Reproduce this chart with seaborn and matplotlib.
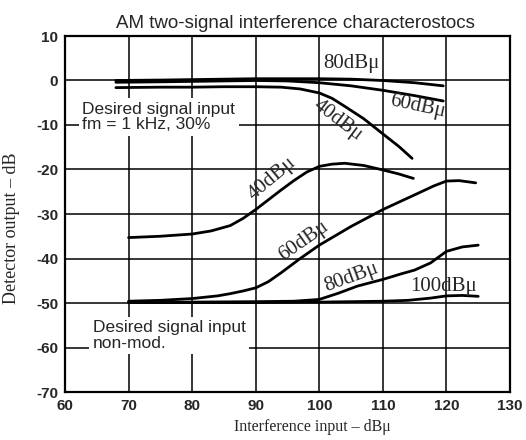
import pandas as pd
import seaborn as sns
import matplotlib.pyplot as plt

# fm = 1 kHz, 30% modulated desired signal
top80_x = [68, 75, 80, 85, 90, 95, 100, 105, 110, 115, 119.5]
top80_y = [0.0, 0.1, 0.2, 0.3, 0.4, 0.4, 0.4, 0.3, 0.0, -0.5, -1.2]
top60_x = [68, 75, 80, 85, 90, 95, 100, 105, 110, 115, 119.5]
top60_y = [-0.4, -0.3, -0.2, -0.1, 0.0, -0.1, -0.5, -1.2, -2.2, -3.4, -4.6]
top40_x = [68, 75, 80, 85, 90, 94, 97, 100, 102, 104, 107, 110, 112.5, 114.6]
top40_y = [-1.6, -1.5, -1.5, -1.4, -1.4, -1.5, -1.9, -2.8, -4.0, -5.8, -8.6, -12.0, -14.8, -17.5]

# non-modulated desired signal
bot40_x = [70, 75, 80, 83, 86, 88, 90, 92, 94, 96, 98, 100, 102, 104, 107, 110, 112.5, 114.8]
bot40_y = [-35.3, -35.0, -34.5, -33.8, -32.6, -31.0, -29.0, -26.8, -24.6, -22.5, -20.6, -19.3, -18.8, -18.6, -19.1, -20.1, -21.0, -22.0]
bot60_x = [70, 75, 80, 84, 86, 88, 90, 92, 94, 97, 100, 105, 110, 115, 118, 120, 122, 124.6]
bot60_y = [-49.6, -49.4, -49.0, -48.4, -47.9, -47.3, -46.6, -45.2, -43.2, -40.0, -37.0, -32.8, -29.0, -25.7, -23.7, -22.6, -22.5, -23.0]
bot80_x = [70, 80, 90, 96, 100, 103, 106, 110, 113, 115, 117.5, 120, 122.5, 125]
bot80_y = [-49.9, -49.8, -49.7, -49.6, -49.2, -47.8, -46.2, -44.7, -43.4, -42.6, -41.0, -38.4, -37.4, -37.0]
bot100_x = [70, 80, 90, 100, 110, 114, 117.5, 120, 122.5, 125]
bot100_y = [-49.9, -49.9, -49.9, -49.8, -49.6, -49.4, -48.9, -48.4, -48.3, -48.5]

curves = {
    "top80": (top80_x, top80_y),
    "top60": (top60_x, top60_y),
    "top40": (top40_x, top40_y),
    "bot40": (bot40_x, bot40_y),
    "bot60": (bot60_x, bot60_y),
    "bot80": (bot80_x, bot80_y),
    "bot100": (bot100_x, bot100_y),
}

df = pd.concat(
    [pd.DataFrame({"x": xs, "y": ys, "curve": name}) for name, (xs, ys) in curves.items()],
    ignore_index=True,
)

sns.set_style("white")
plt.rcParams["font.family"] = ["Liberation Sans", "DejaVu Sans"]

fig = plt.figure(figsize=(5.26, 4.40), dpi=100)
ax = fig.add_axes([65 / 526, 1 - 392 / 440, 445 / 526, 356 / 440])

ax.grid(True, color="black", linewidth=1.1)
ax.set_axisbelow(True)

sns.lineplot(data=df, x="x", y="y", units="curve", estimator=None, sort=False,
             color="black", linewidth=2.0, ax=ax)

ax.set_xlim(60, 130)
ax.set_ylim(-70, 10)
ax.set_xticks(range(60, 131, 10))
ax.set_yticks(range(-70, 11, 10))
ax.set_yticklabels([str(v) for v in range(-70, 11, 10)])
ax.tick_params(axis="both", length=4, width=1.1, color="black", labelsize=11, pad=1)
for lab in ax.get_xticklabels() + ax.get_yticklabels():
    lab.set_fontweight("bold")
for sp in ax.spines.values():
    sp.set_color("black")
    sp.set_linewidth(1.6)

serif = ["Liberation Serif", "DejaVu Serif"]
ax.set_xlabel("Interference input \u2013 dB\u03bc", fontsize=11.5, family=serif)
ax.xaxis.set_label_coords(0.556, -0.075)
ax.set_ylabel("Detector output \u2013 dB", fontsize=13, family=serif)
ax.yaxis.set_label_coords(-0.1, 0.46)
ax.set_title("AM two-signal interference characterostocs", fontsize=13.5, x=0.518, pad=6)

# curve labels
lbl = dict(fontsize=15, family=serif, ha="center", va="center")
ax.text(105.0, 3.8, "80dB\u03bc", **lbl)
ax.text(115.4, -5.9, "60dB\u03bc", rotation=-12, **lbl)
ax.text(102.9, -8.9, "40dB\u03bc", rotation=-37, **lbl)
ax.text(92.6, -22.0, "40dB\u03bc", rotation=40, **lbl)
ax.text(97.6, -36.0, "60dB\u03bc", rotation=35, **lbl)
ax.text(105.0, -44.3, "80dB\u03bc", rotation=20, **lbl)
ax.text(119.5, -46.2, "100dB\u03bc", **lbl)

box = dict(facecolor="white", edgecolor="none", pad=2.5)
ax.text(62.7, -8.2, "Desired signal input\nfm = 1 kHz, 30%", fontsize=12.5,
        ha="left", va="center", linespacing=1.05, bbox=box)
ax.text(64.4, -57.3, "Desired signal input\nnon-mod.", fontsize=12.5,
        ha="left", va="center", linespacing=1.05, bbox=box)

fig.savefig("out.png", dpi=100)
